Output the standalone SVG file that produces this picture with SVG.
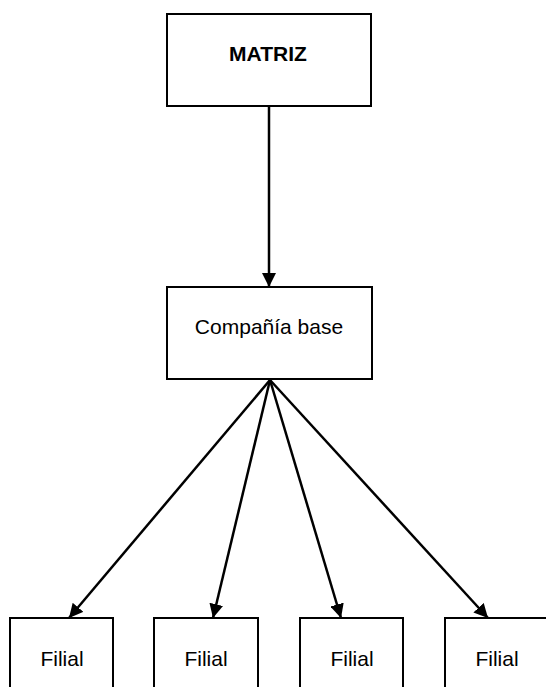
<svg xmlns="http://www.w3.org/2000/svg" width="546" height="687" viewBox="0 0 546 687">
  <style>
    .box { fill: #fff; stroke: #000; stroke-width: 2; }
    .lbl { font-family: "Liberation Sans", Arial, sans-serif; font-size: 21px; fill: #000; text-anchor: middle; }
    .edge { stroke: #000; stroke-width: 2.5; fill: none; marker-end: url(#arrow); }
  </style>
  <defs>
    <marker id="arrow" viewBox="0 0 14 14" refX="14" refY="7" markerWidth="14" markerHeight="14" markerUnits="userSpaceOnUse" orient="auto">
      <path d="M0,0 L14,7 L0,14 Z" fill="#000"/>
    </marker>
  </defs>
  <rect width="546" height="687" fill="#fff"/>

  <g id="connectors">
    <line class="edge" x1="269" y1="106" x2="269" y2="287"/>
    <line class="edge" x1="270" y1="380" x2="69" y2="618"/>
    <line class="edge" x1="270" y1="380" x2="213" y2="618"/>
    <line class="edge" x1="270" y1="380" x2="341" y2="618"/>
    <line class="edge" x1="270" y1="380" x2="488" y2="618"/>
  </g>

  <g id="matriz">
    <rect class="box" x="167" y="14" width="204" height="92"/>
    <text class="lbl" x="268" y="61" font-weight="bold">MATRIZ</text>
  </g>

  <g id="base">
    <rect class="box" x="167" y="287" width="205" height="92"/>
    <text class="lbl" x="269" y="334">Compañía base</text>
  </g>

  <g id="filial1">
    <rect class="box" x="10" y="618" width="103" height="80"/>
    <text class="lbl" x="62" y="666">Filial</text>
  </g>
  <g id="filial2">
    <rect class="box" x="154" y="618" width="104" height="80"/>
    <text class="lbl" x="206" y="666">Filial</text>
  </g>
  <g id="filial3">
    <rect class="box" x="300" y="618" width="103" height="80"/>
    <text class="lbl" x="352" y="666">Filial</text>
  </g>
  <g id="filial4">
    <rect class="box" x="445" y="618" width="110" height="80"/>
    <text class="lbl" x="497" y="666">Filial</text>
  </g>
</svg>
